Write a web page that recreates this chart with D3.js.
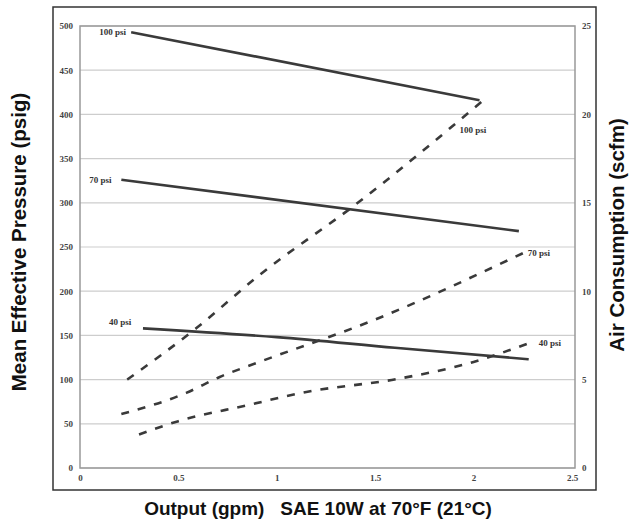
<!DOCTYPE html>
<html>
<head>
<meta charset="utf-8">
<script src="https://cdn.jsdelivr.net/npm/d3@7"></script>
<style>
    body { margin: 0; background: #fff; }
    svg { display: block; }
</style>
</head>
<body>
<div id="chart"></div>
<script>
// pressure (solid, left axis, psig) and air consumption (dashed, right axis, scfm)
const pressureLabels = ['100 psi', '70 psi', '40 psi'];
const pressure100 = [[0.26, 493], [2.03, 416]];
const pressure70 = [[0.21, 326], [2.23, 268]];
const pressure40 = [[0.32, 158], [1.0, 148], [1.6, 136], [2.28, 123]];

const airLabels = ['100 psi', '70 psi', '40 psi'];
const air100 = [[0.24, 5.0], [0.59, 7.9], [0.91, 10.9], [1.4, 14.9], [2.05, 20.8]];
const air70 = [[0.21, 3.05], [0.54, 4.25], [0.71, 5.15], [0.9, 5.95], [1.5, 8.4], [2.26, 12.2]];
const air40 = [[0.3, 1.9], [0.5, 2.65], [0.85, 3.55], [1.15, 4.3], [1.62, 5.05], [2.0, 6.0], [2.29, 7.1]];

const xTicks = [0, 0.5, 1, 1.5, 2, 2.5];
const leftTicks = [0, 50, 100, 150, 200, 250, 300, 350, 400, 450, 500];
const rightTicks = [0, 5, 10, 15, 20, 25];

let width = 634;
let height = 521;
let margin = { top: 26, right: 59, bottom: 53, left: 80 };

let svg = d3.select('#chart').append('svg')
    .attr('width', width)
    .attr('height', height);

let x = d3.scaleLinear()
    .domain([0, 2.5])
    .range([margin.left, width - margin.right - 3]);

let yLeft = d3.scaleLinear()
    .domain([0, 500])
    .range([height - margin.bottom, margin.top]);

let yRight = d3.scaleLinear()
    .domain([0, 25])
    .range([height - margin.bottom, margin.top]);

// outer frame
svg.append('rect')
    .attr('x', 53).attr('y', 7)
    .attr('width', 543).attr('height', 483)
    .attr('fill', 'none')
    .attr('stroke', '#333')
    .attr('stroke-width', 1.5);

// gridlines
svg.append('g')
    .selectAll('line')
    .data(leftTicks)
    .join('line')
        .attr('x1', margin.left)
        .attr('x2', width - margin.right)
        .attr('y1', d => yLeft(d))
        .attr('y2', d => yLeft(d))
        .attr('stroke', '#cdcdcd')
        .attr('stroke-width', 1.2);

// plot box
svg.append('rect')
    .attr('x', margin.left).attr('y', margin.top)
    .attr('width', width - margin.right - margin.left)
    .attr('height', height - margin.bottom - margin.top)
    .attr('fill', 'none')
    .attr('stroke', '#999')
    .attr('stroke-width', 1.5);

let tickFont = 'Liberation Serif';

svg.append('g')
    .attr('transform', `translate(0,${height - margin.bottom + 4})`)
    .call(d3.axisBottom(x).tickValues(xTicks).tickSize(0).tickFormat(d3.format('')))
    .call(g => g.select('.domain').remove())
    .selectAll('text')
        .attr('font-family', tickFont)
        .attr('font-size', 9)
        .attr('font-weight', 'bold')
        .attr('fill', '#444');

svg.append('g')
    .attr('transform', `translate(${margin.left - 4},0)`)
    .call(d3.axisLeft(yLeft).tickValues(leftTicks).tickSize(0))
    .call(g => g.select('.domain').remove())
    .selectAll('text')
        .attr('font-family', tickFont)
        .attr('font-size', 9)
        .attr('font-weight', 'bold')
        .attr('fill', '#444');

svg.append('g')
    .attr('transform', `translate(${width - margin.right + 4},0)`)
    .call(d3.axisRight(yRight).tickValues(rightTicks).tickSize(0))
    .call(g => g.select('.domain').remove())
    .selectAll('text')
        .attr('font-family', tickFont)
        .attr('font-size', 9)
        .attr('font-weight', 'bold')
        .attr('fill', '#444');

let lineLeft = d3.line()
    .x(d => x(d[0]))
    .y(d => yLeft(d[1]))
    .curve(d3.curveMonotoneX);

let lineRight = d3.line()
    .x(d => x(d[0]))
    .y(d => yRight(d[1]))
    .curve(d3.curveMonotoneX);

[pressure100, pressure70, pressure40].forEach(series => {
    svg.append('path')
        .datum(series)
        .attr('d', lineLeft)
        .attr('fill', 'none')
        .attr('stroke', '#3a3a3a')
        .attr('stroke-width', 2.6);
});

[air100, air70, air40].forEach(series => {
    svg.append('path')
        .datum(series)
        .attr('d', lineRight)
        .attr('fill', 'none')
        .attr('stroke', '#3a3a3a')
        .attr('stroke-width', 2.6)
        .attr('stroke-dasharray', '8,9');
});

// line labels
let labelStyle = sel => sel
    .attr('font-family', tickFont)
    .attr('font-size', 9)
    .attr('font-weight', 'bold')
    .attr('fill', '#333');

[pressure100, pressure70, pressure40].forEach((series, i) => {
    let offsets = [[-32, 3], [-32, 3], [-34, -3]];
    svg.append('text')
        .attr('x', x(series[0][0]) + offsets[i][0])
        .attr('y', yLeft(series[0][1]) + offsets[i][1])
        .text(pressureLabels[i])
        .call(labelStyle);
});

[air100, air70, air40].forEach((series, i) => {
    let last = series[series.length - 1];
    let offsets = [[-24, 33], [3, 4], [8, 4]];
    svg.append('text')
        .attr('x', x(last[0]) + offsets[i][0])
        .attr('y', yRight(last[1]) + offsets[i][1])
        .text(airLabels[i])
        .call(labelStyle);
});

// axis titles
let titleStyle = sel => sel
    .attr('font-family', 'Liberation Sans, Arial, sans-serif')
    .attr('font-weight', 'bold')
    .attr('fill', '#111')
    .attr('text-anchor', 'middle');

svg.append('text')
    .attr('transform', 'translate(26,242) rotate(-90)')
    .attr('font-size', 20.5)
    .text('Mean Effective Pressure (psig)')
    .call(titleStyle);

svg.append('text')
    .attr('transform', 'translate(624,235) rotate(-90)')
    .attr('font-size', 20.5)
    .text('Air Consumption (scfm)')
    .call(titleStyle);

svg.append('text')
    .attr('x', 318)
    .attr('y', 515)
    .attr('font-size', 19)
    .attr('xml:space', 'preserve')
    .text('Output (gpm)   SAE 10W at 70°F (21°C)')
    .call(titleStyle);
</script>
</body>
</html>
